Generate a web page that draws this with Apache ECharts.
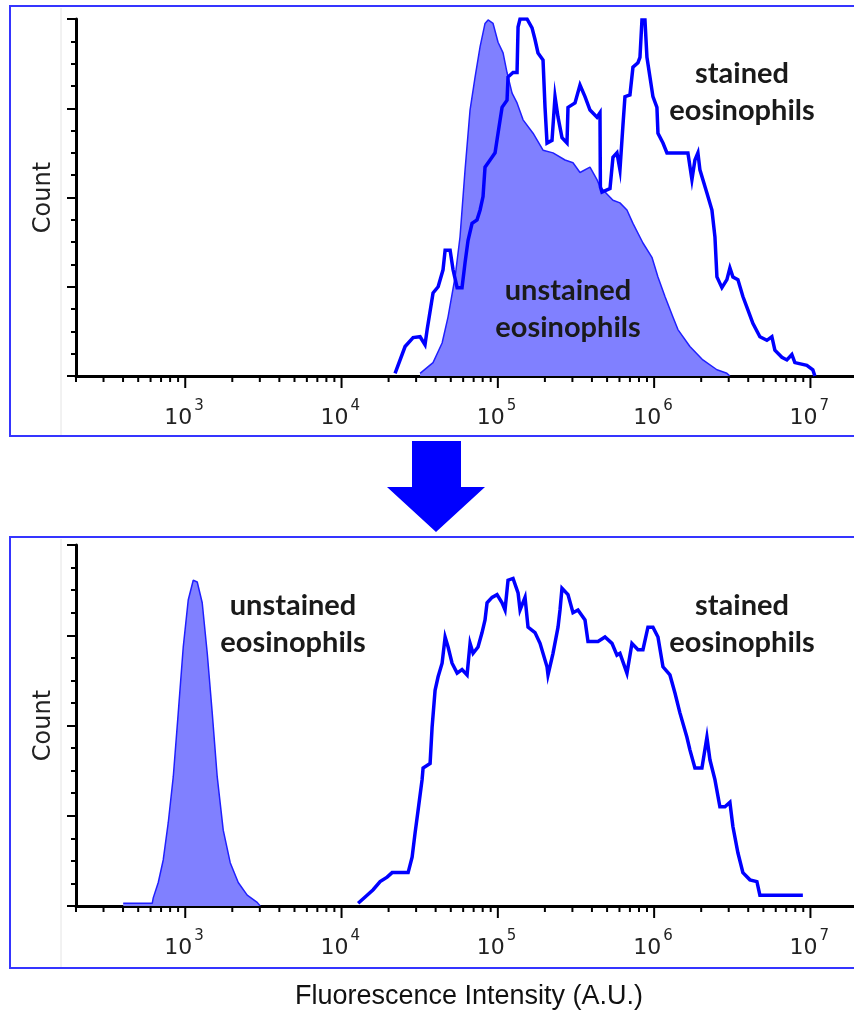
<!DOCTYPE html>
<html>
<head>
<meta charset="utf-8">
<script src="https://cdn.jsdelivr.net/npm/echarts@6/dist/echarts.min.js"></script>
<style>
html,body{margin:0;padding:0;background:#fff;}
#chart{width:854px;height:1013px;}
</style>
</head>
<body>
<div id="chart"></div>
<script>
// ---------- data (fluorescence value, count in axis units) ----------
const topStained = [
  [22000,0.03],[25500,0.33],[28700,0.43],[31800,0.44],[34200,0.35],[35300,0.52],[38500,0.93],[41500,1.0],
  [44600,1.19],[46000,1.41],[49500,1.41],[51700,1.19],[54900,0.99],[59000,0.99],[61700,1.27],[64500,1.52],
  [68400,1.71],[73600,1.75],[77000,1.86],[80400,2.01],[82800,2.34],[89200,2.42],[96000,2.50],[100300,2.72],
  [106400,3.01],[114500,3.09],[116200,3.35],[125100,3.40],[132700,3.40],[134700,3.91],[138700,4.0],[153700,4.0],
  [165500,3.90],[172900,3.77],[180700,3.62],[194600,3.54],[200400,3.01],[206400,2.61],[222100,2.64],[232200,3.13],
  [242700,2.90],[257300,2.67],[277000,2.61],[281100,3.01],[311700,3.06],[335500,3.26],[361100,3.13],[388700,2.98],
  [430900,2.90],[450300,2.95],[453000,2.12],[463700,2.06],[521800,2.10],[545300,2.45],[578300,2.50],[604400,2.31],
  [631700,2.81],[650600,3.13],[700300,3.15],[731900,3.46],[787900,3.51],[811500,3.57],[835800,3.99],[873500,3.99],
  [899500,3.57],[940200,3.35],[982600,3.13],[1042000,3.01],[1058000,2.72],[1139000,2.61],[1208000,2.50],[1645000,2.50],
  [1745000,2.20],[1824000,2.42],[1906000,2.50],[1963000,2.31],[2176000,2.05],[2343000,1.86],[2449000,1.56],[2522000,1.11],
  [2714000,0.99],[2921000,1.08],[3053000,1.21],[3191000,1.11],[3435000,1.08],[3698000,0.89],[3980000,0.74],[4283000,0.59],
  [4750000,0.44],[5264000,0.40],[5666000,0.44],[5922000,0.29],[6566000,0.21],[7068000,0.18],[7607000,0.24],[7950000,0.15],
  [9486000,0.12],[10360000,0.07],[10670000,0]
];
const topUnstained = [
  [31800,0.03],[38500,0.15],[44000,0.37],[48000,0.66],[53300,1.11],[57300,1.56],[61700,2.31],[66400,2.98],
  [71500,3.35],[77000,3.69],[82800,3.95],[86600,3.99],[93200,3.95],[100300,3.74],[108000,3.62],[114500,3.40],
  [123300,3.17],[132700,3.06],[145000,2.87],[168000,2.72],[194600,2.53],[225400,2.50],[269000,2.42],[302600,2.39],
  [335500,2.28],[388700,2.34],[430900,2.20],[450300,2.12],[545300,1.97],[604400,1.94],[670000,1.86],[731900,1.71],
  [848200,1.49],[968300,1.33],[1058000,1.11],[1173000,0.89],[1319000,0.66],[1420000,0.52],[1694000,0.33],[2051000,0.18],
  [2522000,0.07],[2921000,0.03],[3053000,0]
];
const bottomUnstained = [
  [401,0.03],[615,0.03],[624,0.09],[672,0.26],[723,0.51],[778,0.92],[838,1.43],[902,2.14],[971,2.87],
  [1045,3.39],[1125,3.61],[1193,3.59],[1284,3.36],[1383,2.80],[1488,2.14],[1602,1.43],[1750,0.84],[1940,0.48],
  [2183,0.26],[2491,0.12],[2886,0.04],[3017,0]
];
const bottomStained = [
  [12770,0.03],[14160,0.10],[15930,0.18],[17650,0.27],[19570,0.32],[21070,0.37],[26670,0.37],[28280,0.54],
  [29550,0.81],[30890,1.06],[32760,1.40],[33250,1.53],[36860,1.58],[37960,1.98],[39670,2.39],[41470,2.54],
  [43990,2.69],[46000,2.98],[48050,2.87],[50950,2.69],[54900,2.58],[59000,2.62],[63550,2.56],[66430,2.91],
  [69430,2.80],[74700,2.87],[79250,3.03],[82800,3.17],[85310,3.36],[91840,3.42],[98830,3.45],[106400,3.36],
  [111200,3.28],[116200,3.61],[125100,3.63],[134700,3.47],[138700,3.28],[149300,3.42],[156000,3.09],[172900,3.03],
  [186200,2.91],[206400,2.65],[209400,2.56],[225400,2.80],[242700,3.09],[249900,3.28],[257300,3.52],[281100,3.45],
  [302600,3.25],[325600,3.28],[361100,3.17],[377400,2.93],[437300,2.93],[484800,2.98],[537400,2.91],[578300,2.78],
  [604400,2.80],[670000,2.58],[721200,2.91],[787900,2.84],[848200,2.84],[912800,3.09],[982600,3.09],[1058000,2.98],
  [1139000,2.65],[1262000,2.56],[1359000,2.36],[1462000,2.14],[1621000,1.87],[1694000,1.73],[1824000,1.53],[2022000,1.53],
  [2176000,1.87],[2275000,1.62],[2449000,1.40],[2635000,1.10],[2837000,1.10],[3053000,1.15],[3191000,0.88],[3435000,0.59],
  [3698000,0.37],[4100000,0.29],[4545000,0.27],[4750000,0.12],[8944000,0.12]
];
// axis decorations
const xMin = 200, xMax = 1.9e7;
const xDecades = [100, 1000, 10000, 100000, 1000000, 10000000];
const xMultipliers = [1,2,3,4,5,6,7,8,9];
const xLabelBase = '10';
const yMax = 4;
const labelLines = {
  stained: 'stained\neosinophils',
  unstained: 'unstained\neosinophils'
};
const xTitle = 'Fluorescence Intensity (A.U.)';
const yTitle = 'Count';

// tick list (value, y, isMajor, exponent)
const xTicks = [];
xDecades.forEach(d => xMultipliers.forEach(m => {
  const v = d * m;
  if (v >= xMin && v <= xMax) xTicks.push([v, 0, m === 1 ? 1 : 0, Math.round(Math.log10(d))]);
}));

const BLUE = '#0000ff';
const FILL = '#8080ff';
const LABEL_COLOR = '#222';

function xAxisCfg(gi) {
  return {
    type: 'log', gridIndex: gi, min: xMin, max: xMax, logBase: 10,
    axisLine: { show: true, onZero: false, lineStyle: { color: '#000', width: 3 } },
    axisTick: { show: false },
    splitLine: { show: false },
    minorTick: { show: false },
    axisLabel: { show: false }
  };
}
function yAxisCfg(gi) {
  return {
    type: 'value', gridIndex: gi, min: 0, max: yMax, interval: 1,
    name: yTitle, nameLocation: 'middle', nameRotate: 90, nameGap: 20,
    nameTextStyle: { fontSize: 24, fontFamily: 'DejaVu Sans', color: LABEL_COLOR },
    axisLine: { show: true, lineStyle: { color: '#000', width: 3 } },
    axisTick: { show: true, length: 9, lineStyle: { color: '#000', width: 2 } },
    minorTick: { show: true, splitNumber: 4, length: 5, lineStyle: { color: '#000', width: 2 } },
    axisLabel: { show: false },
    splitLine: { show: false }
  };
}
// x ticks and "10^n" labels, placed through the axis scale
function tickSeries(gi) {
  return {
    type: 'custom', xAxisIndex: gi, yAxisIndex: gi, clip: false, silent: true, z: 5,
    data: xTicks,
    renderItem: function (params, api) {
      const p = api.coord([api.value(0), 0]);
      const major = api.value(2) === 1;
      const children = [{
        type: 'line', shape: { x1: p[0], y1: p[1], x2: p[0], y2: p[1] + (major ? 12 : 6) },
        style: { stroke: '#000', lineWidth: 2 }
      }];
      if (major) {
        children.push({ type: 'text', x: p[0] + 7, y: p[1] + 42,
          style: { text: xLabelBase, align: 'right', verticalAlign: 'middle', fill: LABEL_COLOR,
            fontFamily: 'DejaVu Sans', fontSize: 22 } });
        children.push({ type: 'text', x: p[0] + 9, y: p[1] + 30,
          style: { text: String(api.value(3)), align: 'left', verticalAlign: 'middle', fill: LABEL_COLOR,
            fontFamily: 'DejaVu Sans', fontSize: 15 } });
      }
      return { type: 'group', children: children };
    }
  };
}
function fillSeries(gi, data) {
  return { type: 'line', xAxisIndex: gi, yAxisIndex: gi, data: data, symbol: 'none', z: 2,
    lineStyle: { color: '#1f1fff', width: 1.5 }, areaStyle: { color: FILL, opacity: 1 } };
}
function lineSeries(gi, data) {
  return { type: 'line', xAxisIndex: gi, yAxisIndex: gi, data: data, symbol: 'none', z: 3,
    lineStyle: { color: BLUE, width: 3.5, join: 'miter' } };
}
function annot(x, y, text) {
  return { type: 'text', x: x, y: y, z: 10,
    style: { text: text, align: 'center', verticalAlign: 'middle', fill: '#1a1a1a',
      fontFamily: 'Lato', fontWeight: 'bold', fontSize: 29, lineHeight: 37 } };
}

const chart = echarts.init(document.getElementById('chart'), null, { renderer: 'canvas' });
chart.setOption({
  backgroundColor: '#fff',
  animation: false,
  grid: [
    { left: 76, top: 19, height: 357, right: 0 },
    { left: 76, top: 545, height: 361, right: 0 }
  ],
  xAxis: [xAxisCfg(0), xAxisCfg(1)],
  yAxis: [yAxisCfg(0), yAxisCfg(1)],
  series: [
    fillSeries(0, topUnstained), lineSeries(0, topStained), tickSeries(0),
    fillSeries(1, bottomUnstained), lineSeries(1, bottomStained), tickSeries(1)
  ],
  graphic: [
    { type: 'rect', shape: { x: 10, y: 6, width: 900, height: 430 }, z: 0,
      style: { fill: null, stroke: '#3535ff', lineWidth: 2 } },
    { type: 'rect', shape: { x: 10, y: 537, width: 900, height: 431 }, z: 0,
      style: { fill: null, stroke: '#3535ff', lineWidth: 2 } },
    { type: 'line', shape: { x1: 61, y1: 8, x2: 61, y2: 435 }, style: { stroke: '#e4e4e4', lineWidth: 1 } },
    { type: 'line', shape: { x1: 61, y1: 539, x2: 61, y2: 967 }, style: { stroke: '#e4e4e4', lineWidth: 1 } },
    { type: 'polygon', shape: { points: [[412,441],[461,441],[461,487],[485,487],[436,532],[387,487],[412,487]] },
      style: { fill: BLUE } },
    annot(742, 92, labelLines.stained),
    annot(568, 309, labelLines.unstained),
    annot(293, 624, labelLines.unstained),
    annot(742, 624, labelLines.stained),
    { type: 'text', x: 469, y: 997, z: 10,
      style: { text: xTitle, align: 'center', verticalAlign: 'middle', fill: '#111',
        fontFamily: 'Liberation Sans', fontSize: 27 } }
  ]
});
</script>
</body>
</html>
